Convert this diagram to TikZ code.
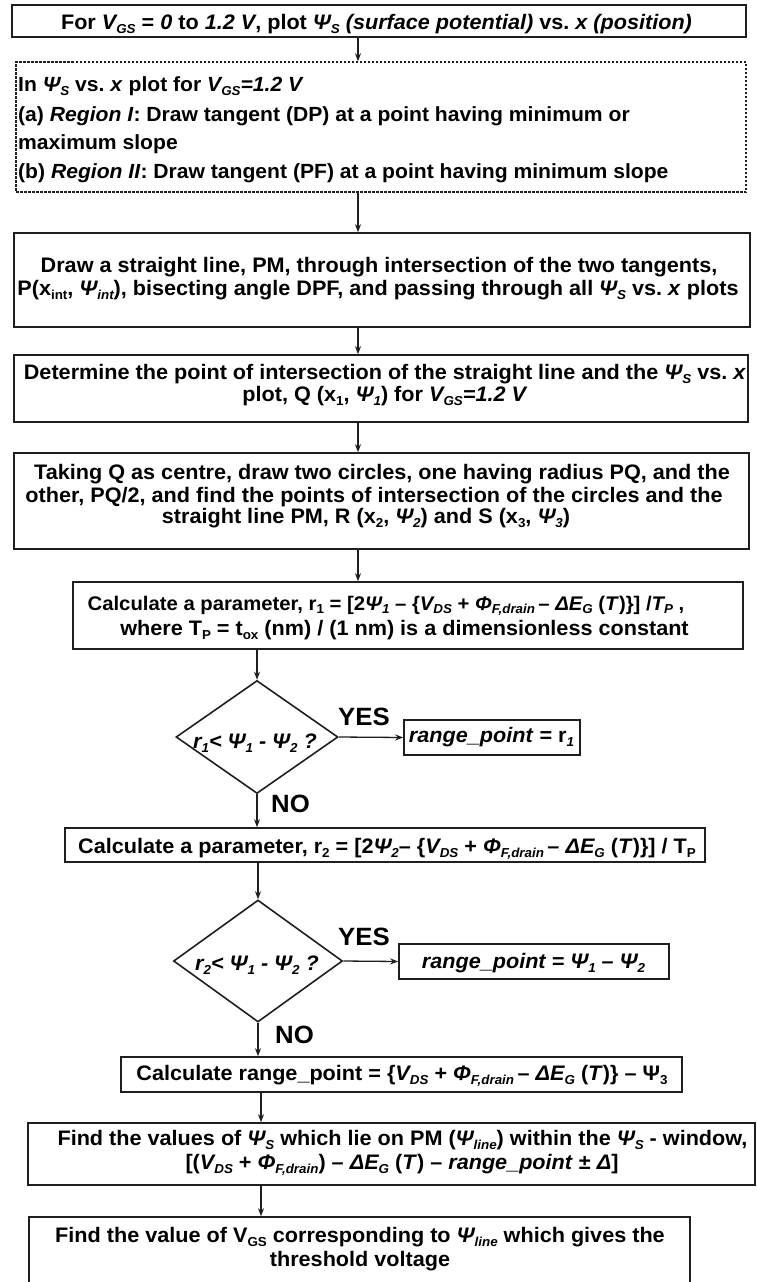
\documentclass[tikz,border=0pt]{standalone}
\usepackage{fontspec}
\setmainfont{Liberation Sans}[FakeStretch=1.03]
\usetikzlibrary{shapes.geometric,arrows.meta,calc}
\frenchspacing
\newcommand\dn[1]{\raisebox{-0.2em}{\fontsize{13}{13}\selectfont #1}}
\tikzset{
  ln/.style={font=\fontsize{21}{24}\selectfont\bfseries, text=black, anchor=base, inner sep=0pt},
  lnl/.style={ln, anchor=base west, font=\fontsize{20.5}{24}\selectfont\bfseries},
  box/.style={draw=black!88, line width=1.6pt, rectangle, inner sep=0pt},
  dbox/.style={draw=black!88, line width=1.4pt, dash pattern=on 2.5pt off 1.5pt, rectangle, inner sep=0pt},
  dia/.style={draw=black!88, line width=1.6pt, diamond, inner sep=0pt},
  lbl/.style={font=\fontsize{25}{25}\selectfont\bfseries, text=black, inner sep=0pt, anchor=base},
  arr/.style={draw=black!88, line width=1.3pt, -{Stealth[length=8pt,width=6pt]}},
}
\begin{document}
\begin{tikzpicture}[x=1pt,y=-1pt]
\useasboundingbox (0,0) rectangle (756,1282);
\fill[white] (0,0) rectangle (756,1282);

% ---- boxes ----
\node[box, minimum width=734, minimum height=32] (b1) at (379,21) {};
\node[dbox, minimum width=730, minimum height=130] (b2) at (381,127) {};
\node[box, minimum width=736, minimum height=94] (b3) at (382,280) {};
\node[box, minimum width=734, minimum height=67] (b4) at (381,388.5) {};
\node[box, minimum width=735, minimum height=96] (b5) at (381.5,501) {};
\node[box, minimum width=670, minimum height=67] (b6) at (408,615.5) {};
\node[dia, minimum width=162, minimum height=113] (d1) at (257,737) {};
\node[box, minimum width=176, minimum height=35] (r1) at (492,737.5) {};
\node[box, minimum width=640, minimum height=34] (b7) at (385,845) {};
\node[dia, minimum width=169, minimum height=122] (d2) at (258,961) {};
\node[box, minimum width=270, minimum height=35] (r2) at (534,961.5) {};
\node[box, minimum width=561, minimum height=35] (b8) at (401.5,1074.5) {};
\node[box, minimum width=727, minimum height=62] (b9) at (391.5,1154) {};
\node[box, minimum width=661, minimum height=70] (b10) at (359.5,1252) {};

% ---- texts ----
\node[ln] (t1) at (376.5,29)
 {For \textit{V\dn{GS}} = \textit{0} to \textit{1.2 V}, plot \textit{Ψ\dn{S}}~\textit{(surface potential)} vs. \textit{x (position)}};

\node[lnl] (t2a) at (18,91) {In \textit{Ψ\dn{S}} vs. \textit{x} plot for \textit{V\dn{GS}=1.2 V}};
\node[lnl] (t2b) at (18,121) {(a) \textit{Region I}: Draw tangent (DP) at a point having minimum or};
\node[lnl] (t2c) at (18,149) {maximum slope};
\node[lnl] (t2d) at (18,178) {(b) \textit{Region II}: Draw tangent (PF) at a point having minimum slope};

\node[ln] (t3a) at (379,272) {Draw a straight line, PM, through intersection of the two tangents,};
\node[ln] (t3b) at (378,295) {P(x\dn{int}, \textit{Ψ\dn{int}}), bisecting angle DPF, and passing through all \textit{Ψ\dn{S}} vs. \textit{x} plots};

\node[ln] (t4a) at (385,379) {Determine the point of intersection of the straight line and the \textit{Ψ\dn{S}} vs. \textit{x}};
\node[ln] (t4b) at (385,401) {plot, Q (x\dn{1}, \textit{Ψ\dn{1}}) for \textit{V\dn{GS}=1.2 V}};

\node[ln] (t5a) at (382,479) {Taking Q as centre, draw two circles, one having radius PQ, and the};
\node[ln] (t5b) at (374,502) {other, PQ/2, and find the points of intersection of the circles and the};
\node[ln] (t5c) at (366,523) {straight line PM, R (x\dn{2}, \textit{Ψ\dn{2}}) and S (x\dn{3}, \textit{Ψ\dn{3}})};

\node[ln, font=\fontsize{19.7}{24}\selectfont\bfseries] (t6a) at (386,610)
 {Calculate a parameter, r\dn{1} = [2\textit{Ψ\dn{1}} – \{\textit{V\dn{DS}} + \textit{Φ\dn{F,drain}}\,– \textit{ΔE\dn{G}} (\textit{T})\}] /\textit{T\dn{P}} ,};
\node[ln] (t6b) at (404.5,635) {where T\dn{P} = t\dn{ox} (nm) / (1 nm) is a dimensionless constant};

\node[ln] (td1) at (255,748) {\textit{r\dn{1}< Ψ\dn{1} - Ψ\dn{2} ?}};
\node[ln] (tr1) at (491.5,742) {\textit{range\_point} = r\dn{\textit{1}}};

\node[ln] (t7) at (387,853)
 {Calculate a parameter, r\dn{2} = [2\textit{Ψ\dn{2}}– \{\textit{V\dn{DS}} + \textit{Φ\dn{F,drain}}\,– \textit{ΔE\dn{G}} (\textit{T})\}] / T\dn{P}};

\node[ln] (td2) at (257,970) {\textit{r\dn{2}< Ψ\dn{1} - Ψ\dn{2} ?}};
\node[ln] (tr2) at (533.5,968) {\textit{range\_point = Ψ\dn{1} – Ψ\dn{2}}};

\node[ln] (t8) at (402,1080)
 {Calculate range\_point = \{\textit{V\dn{DS}} + \textit{Φ\dn{F,drain}}\,– \textit{ΔE\dn{G}} (\textit{T})\} – Ψ\dn{3}};

\node[ln] (t9a) at (402.5,1145)
 {Find the values of \textit{Ψ\dn{S}} which lie on PM (\textit{Ψ\dn{line}}) within the \textit{Ψ\dn{S}} - window,};
\node[ln] (t9b) at (402,1169)
 {[(\textit{V\dn{DS}} + \textit{Φ\dn{F,drain}}) – \textit{ΔE\dn{G}} (\textit{T}) – \textit{range\_point} ± \textit{Δ}]};

\node[ln] (t10a) at (360,1242) {Find the value of V\dn{GS} corresponding to \textit{Ψ\dn{line}} which gives the};
\node[ln] (t10b) at (360,1266) {threshold voltage};

\node[lbl] (yes1) at (364,725) {YES};
\node[lbl] (no1) at (290.5,812) {NO};
\node[lbl] (yes2) at (364,945) {YES};
\node[lbl] (no2) at (294.5,1043) {NO};

% ---- connectors ----
\coordinate (ca) at (358,0);
\coordinate (cb) at (261,0);
\draw[arr] (b1.south -| ca) -- (b2.north -| ca);
\draw[arr] (b2.south -| ca) -- (b3.north -| ca);
\draw[arr] (b3.south -| ca) -- (b4.north -| ca);
\draw[arr] (b4.south -| ca) -- (b5.north -| ca);
\draw[arr] (b5.south -| ca) -- (b6.north -| ca);
\draw[arr] (b6.south -| d1) -- (d1.north);
\draw[arr] (d1.east) -- (r1.west);
\draw[arr] (d1.south) -- (b7.north -| d1);
\draw[arr] (b7.south -| d2) -- (d2.north);
\draw[arr] (d2.east) -- (r2.west);
\draw[arr] (d2.south) -- (b8.north -| d2);
\draw[arr] (b8.south -| cb) -- (b9.north -| cb);
\draw[arr] (b9.south -| cb) -- (b10.north -| cb);
\end{tikzpicture}
\end{document}
